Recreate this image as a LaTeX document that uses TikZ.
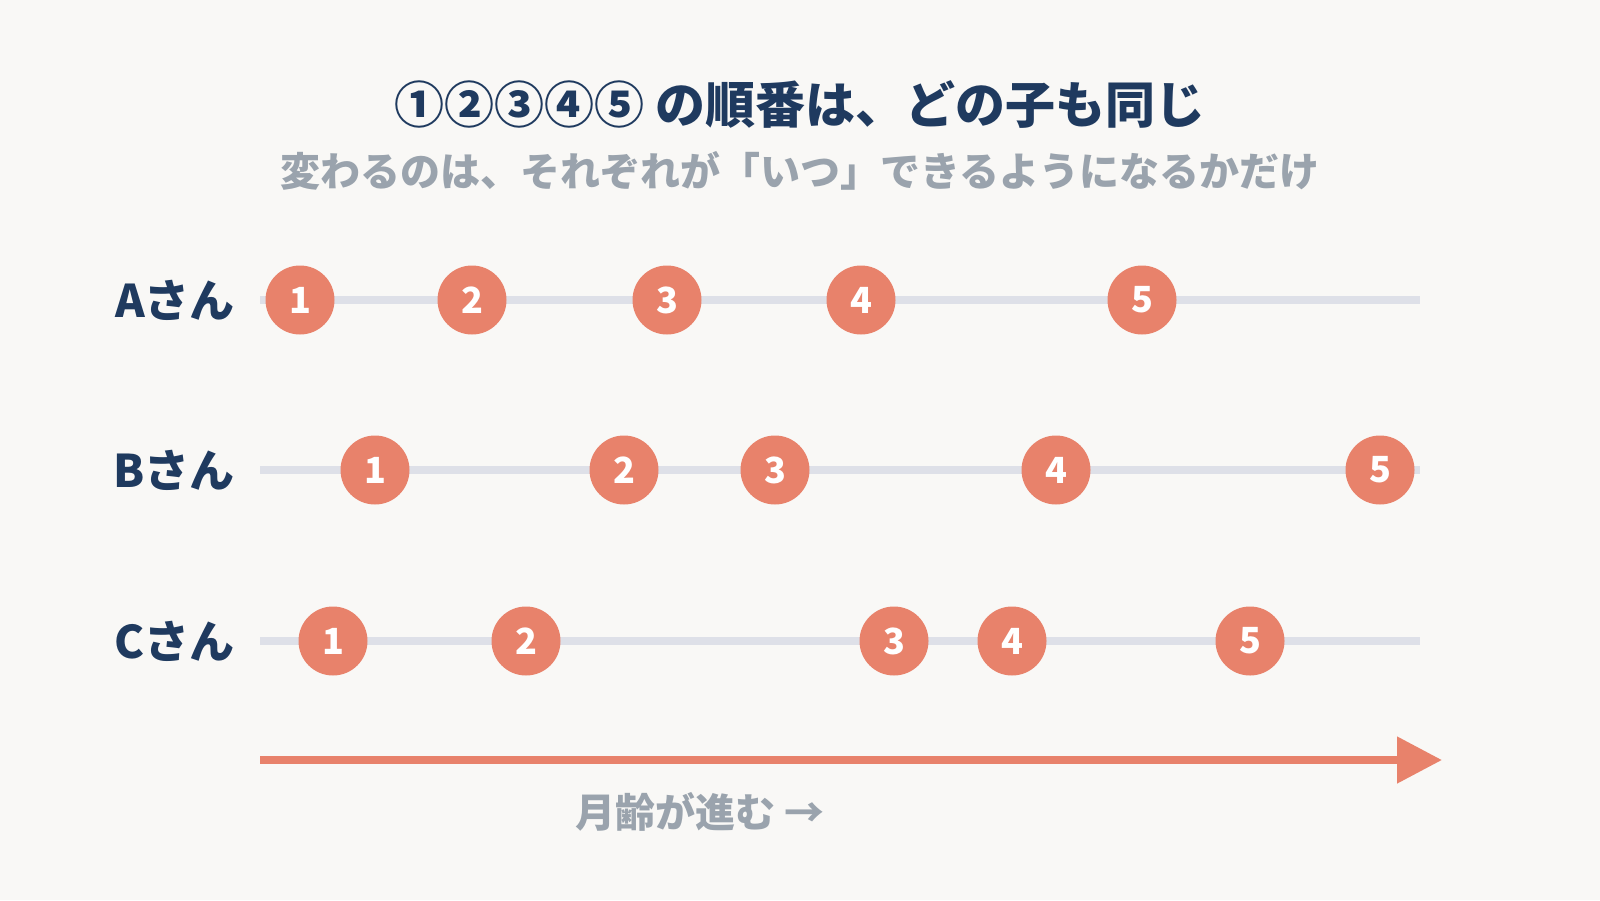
\documentclass[tikz,border=0pt]{standalone}
\usepackage{fontspec}
\setmainfont{Noto Sans CJK JP}
\usetikzlibrary{arrows.meta}
\definecolor{bg}{HTML}{F9F8F6}
\definecolor{navy}{HTML}{1F3A5F}
\definecolor{subgray}{HTML}{9AA3AD}
\definecolor{coral}{HTML}{E8826B}
\definecolor{trackc}{HTML}{DEE0E8}
\tikzset{
  titletext/.style={text=navy, font=\fontsize{50}{56}\selectfont\bfseries, inner sep=0},
  subtext/.style={text=subgray, font=\fontsize{40}{46}\selectfont\bfseries, inner sep=0},
  rowlbl/.style={text=navy, font=\fontsize{45}{50}\selectfont\bfseries, inner sep=0, anchor=east},
  trackline/.style={draw=trackc, line width=8pt},
  dot/.style={circle, fill=coral, minimum size=69pt, inner sep=0, text=white, font=\fontsize{36}{40}\selectfont\bfseries},
  timearrow/.style={draw=coral, line width=8pt, -{Triangle[length=45pt,width=45pt]}}
}
\begin{document}
\begin{tikzpicture}[x=1pt,y=-1pt]
\fill[bg] (0,0) rectangle (1600,900);
\useasboundingbox (0,0) rectangle (1600,900);
\node[titletext] (title) at (800,105) {①②③④⑤ の順番は、どの子も同じ};
\node[subtext] (subtitle) at (800,171) {変わるのは、それぞれが「いつ」できるようになるかだけ};
% row A
\node[rowlbl] (la) at (235,300) {Aさん};
\coordinate (sa) at (260,300); \coordinate (ea) at (1420,300);
\draw[trackline] (sa) -- (ea);
\node[dot] (a1) at (300,300) {1};
\node[dot] (a2) at (472,300) {2};
\node[dot] (a3) at (667,300) {3};
\node[dot] (a4) at (861,300) {4};
\node[dot] (a5) at (1142,300) {5};
% row B
\node[rowlbl] (lb) at (235,470) {Bさん};
\coordinate (sb) at (260,470); \coordinate (eb) at (1420,470);
\draw[trackline] (sb) -- (eb);
\node[dot] (b1) at (375,470) {1};
\node[dot] (b2) at (624,470) {2};
\node[dot] (b3) at (775,470) {3};
\node[dot] (b4) at (1056,470) {4};
\node[dot] (b5) at (1380,470) {5};
% row C
\node[rowlbl] (lc) at (235,641) {Cさん};
\coordinate (sc) at (260,641); \coordinate (ec) at (1420,641);
\draw[trackline] (sc) -- (ec);
\node[dot] (c1) at (333,641) {1};
\node[dot] (c2) at (526,641) {2};
\node[dot] (c3) at (894,641) {3};
\node[dot] (c4) at (1012,641) {4};
\node[dot] (c5) at (1250,641) {5};
% time arrow
\coordinate (ts) at (260,760); \coordinate (te) at (1442,760);
\draw[timearrow] (ts) -- (te);
\node[subtext] (age) at (700,812) {月齢が進む →};
\end{tikzpicture}
\end{document}
